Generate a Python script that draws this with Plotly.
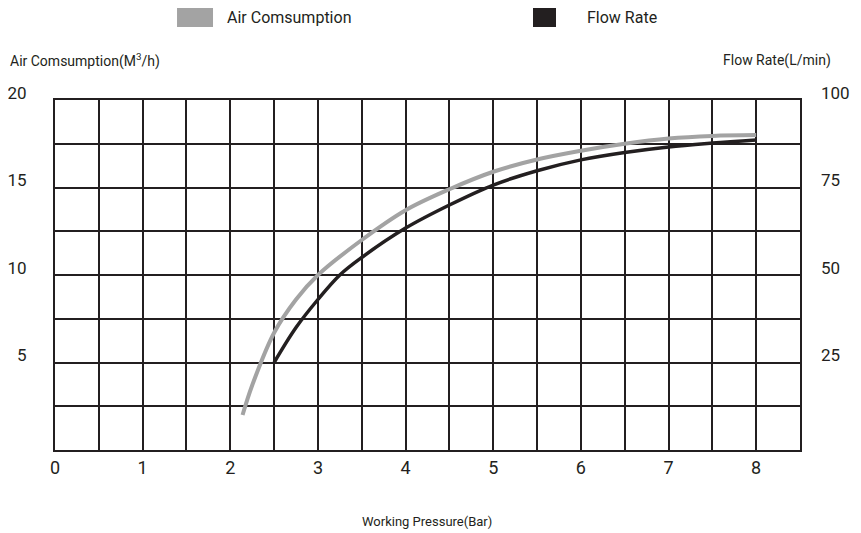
import plotly.graph_objects as go

# Data
pressure_air = [2.14, 2.25, 2.5, 2.75, 3.0, 3.5, 4.0, 4.5, 5.0, 5.5, 6.0, 6.5, 7.0, 7.5, 8.0]
air_consumption = [2.0, 3.7, 6.7, 8.6, 10.0, 12.0, 13.7, 14.9, 15.9, 16.6, 17.1, 17.5, 17.8, 17.95, 18.0]

pressure_flow = [2.5, 2.75, 3.0, 3.25, 3.5, 4.0, 4.5, 5.0, 5.5, 6.0, 6.5, 7.0, 7.5, 8.0]
flow_rate = [25.0, 35.0, 43.0, 50.0, 55.0, 63.4, 70.0, 75.7, 79.8, 82.9, 85.0, 86.6, 87.7, 88.6]

x_ticks = [0, 1, 2, 3, 4, 5, 6, 7, 8]
y_left_ticks = [5, 10, 15, 20]
y_right_ticks = [25, 50, 75, 100]

FONT = "Roboto, Liberation Sans, sans-serif"
GRAY = "#a3a3a3"
BLACK = "#231f20"

fig = go.Figure()
fig.add_trace(go.Scatter(x=pressure_air, y=air_consumption, mode="lines",
                         line=dict(color=GRAY, width=4, shape="spline"),
                         name="Air Comsumption", showlegend=False))
fig.add_trace(go.Scatter(x=pressure_flow, y=flow_rate, mode="lines", yaxis="y2",
                         line=dict(color=BLACK, width=3.5, shape="spline"),
                         name="Flow Rate", showlegend=False))

fig.update_layout(
    width=861, height=533,
    margin=dict(l=47, r=69, t=92, b=91),
    paper_bgcolor="white", plot_bgcolor="white",
    font=dict(family=FONT, color="#231f20"),
    xaxis=dict(range=[0, 8.5], tickvals=x_ticks, showgrid=True, gridcolor=BLACK, gridwidth=2,
               minor=dict(dtick=0.5, tick0=0, showgrid=True, gridcolor=BLACK, gridwidth=2),
               showline=True, linecolor=BLACK, linewidth=2, mirror=True, automargin=False,
               ticks="", ticklabelstandoff=0, tickfont=dict(size=18), zeroline=False),
    yaxis=dict(range=[0, 20], tickvals=y_left_ticks, showgrid=True, gridcolor=BLACK, gridwidth=2,
               minor=dict(dtick=2.5, tick0=0, showgrid=True, gridcolor=BLACK, gridwidth=2),
               showline=True, linecolor=BLACK, linewidth=2, mirror=True, automargin=False,
               ticks="", ticklabelstandoff=23, ticklabelshift=-7, tickfont=dict(size=17), zeroline=False),
    yaxis2=dict(range=[0, 100], tickvals=y_right_ticks, overlaying="y", side="right",
                showgrid=False, zeroline=False, ticks="", ticklabelstandoff=20, ticklabelshift=-7,
                automargin=False, tickfont=dict(size=17)),
)

shapes = [
    dict(type="rect", xref="paper", yref="paper", x0=0.1638, x1=0.2121, y0=1.2086, y1=1.2629,
         fillcolor=GRAY, line=dict(width=0)),
    dict(type="rect", xref="paper", yref="paper", x0=0.6416, x1=0.6725, y0=1.2086, y1=1.2629,
         fillcolor=BLACK, line=dict(width=0)),
]
fig.update_layout(shapes=shapes)

ann = [
    dict(text="Air Comsumption", x=0.2282, y=1.2343, xanchor="left", yanchor="middle", font=dict(size=16)),
    dict(text="Flow Rate", x=0.7114, y=1.2343, xanchor="left", yanchor="middle", font=dict(size=16)),
    dict(text="Air Comsumption(M<sup>3</sup>/h)", x=-0.063, y=1.114, xanchor="left", yanchor="middle", font=dict(size=14)),
    dict(text="Flow Rate(L/min)", x=1.044, y=1.114, xanchor="right", yanchor="middle", font=dict(size=14)),
    dict(text="Working Pressure(Bar)", x=0.4993, y=-0.2057, xanchor="center", yanchor="middle", font=dict(size=13)),
]
for a in ann:
    a.update(xref="paper", yref="paper", showarrow=False)
fig.update_layout(annotations=ann)

fig.write_html("out.html")
